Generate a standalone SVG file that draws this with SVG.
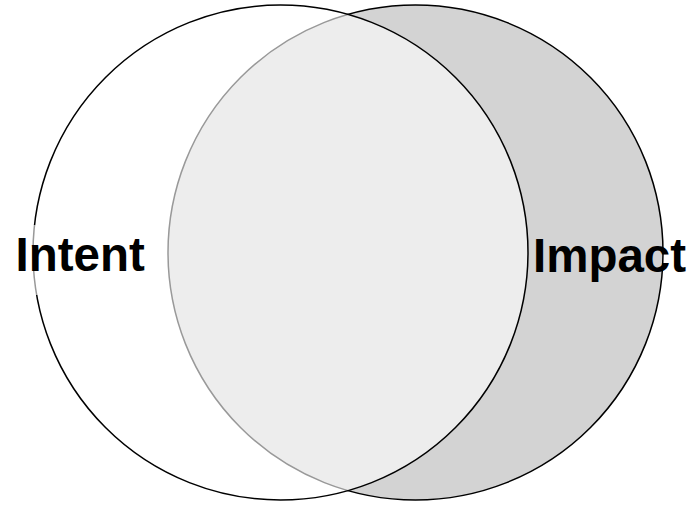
<svg xmlns="http://www.w3.org/2000/svg" width="695" height="505" viewBox="0 0 695 505">
  <style>
    .set { stroke: #000; stroke-width: 1.5; }
    .label { font-family: "Liberation Sans", Arial, sans-serif; font-weight: bold; font-size: 47.5px; fill: #000; }
  </style>
  <rect width="695" height="505" fill="#fff"/>
  <g id="impact">
    <circle class="set" cx="415.5" cy="252.5" r="247.5" fill="#d3d3d3"/>
  </g>
  <g id="intent">
    <circle class="set" cx="280.5" cy="252.5" r="247.5" fill="#fff" fill-opacity="0.6"/>
  </g>
  <g id="intent-label">
    <rect x="12" y="225" width="140" height="70" fill="#fff" fill-opacity="0.6"/>
    <text class="label" x="15.5" y="271">Intent</text>
  </g>
  <g id="impact-label">
    <text class="label" x="533" y="271.5">Impact</text>
  </g>
</svg>
